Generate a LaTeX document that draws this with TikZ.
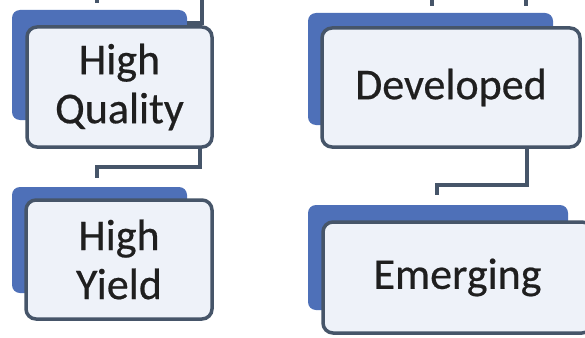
\documentclass[tikz,border=0pt]{standalone}
\usepackage{fontspec}
\setmainfont{Carlito}[FakeBold=0.5]
\definecolor{tabblue}{HTML}{4E70B8}
\definecolor{frameline}{HTML}{465569}
\definecolor{panelfill}{HTML}{EEF2F9}
\definecolor{inkdark}{HTML}{1F1F1F}
\begin{document}
\begin{tikzpicture}[x=1pt,y=-1pt,
  backcard/.style={rectangle, rounded corners=8pt, fill=tabblue, draw=none,
    inner sep=0pt},
  frontcard/.style={rectangle, rounded corners=10pt, fill=panelfill,
    draw=frameline, line width=3.5pt, inner sep=0pt, align=center,
    text=inkdark, font=\fontsize{44}{49}\selectfont},
  link/.style={draw=frameline, line width=3.5pt}]
\useasboundingbox (0,0) rectangle (585,337);
\fill[white] (0,0) rectangle (585,337);
\clip (0,0) rectangle (585,337);

% blue cards behind each panel
\node[backcard, minimum width=175pt, minimum height=110pt] (hqB) at (99.5,65) {};
\node[backcard, minimum width=175pt, minimum height=106pt] (hyB) at (99.5,240) {};
\node[backcard, minimum width=245pt, minimum height=112pt] (dvB) at (430.5,69) {};
\node[backcard, minimum width=260pt, minimum height=105pt] (emB) at (438,257.5) {};

% connector stubs entering from above
\coordinate (lTopA) at (97,-5);
\coordinate (lTopAe) at (97,3);
\coordinate (lTopB) at (202,-5);
\coordinate (lTopBk) at (202,23);
\draw[link] (lTopA) -- (lTopAe);
\draw[link] (lTopB) -- (lTopBk) -- (lTopBk -| hqB.east);

\coordinate (rTopA) at (432,-5);
\coordinate (rTopAe) at (432,6);
\coordinate (rTopB) at (526,-5);
\coordinate (rTopBe) at (526,6);
\draw[link] (rTopA) -- (rTopAe);
\draw[link] (rTopB) -- (rTopBe);

% elbow connectors between the stacked panels
\coordinate (lKnee) at (200,167);
\coordinate (lEnd) at (97,178);
\coordinate (rKnee) at (527,185);
\coordinate (rEnd) at (437,195);

% front panels with their labels
\node[frontcard, minimum width=185pt, minimum height=120pt] (hqF) at (119.5,87) {High\\Quality};
\node[frontcard, minimum width=186pt, minimum height=119pt] (hyF) at (119,259.5) {High\\Yield};
\node[frontcard, minimum width=258pt, minimum height=119pt] (dvF) at (451,87.5) {Developed};
\node[frontcard, minimum width=269pt, minimum height=111pt] (emF) at (457.5,277.5) {Emerging};

\draw[link] (hqF.south -| lKnee) -- (lKnee) -| (lEnd);
\draw[link] (dvF.south -| rKnee) -- (rKnee) -| (rEnd);
\end{tikzpicture}
\end{document}
